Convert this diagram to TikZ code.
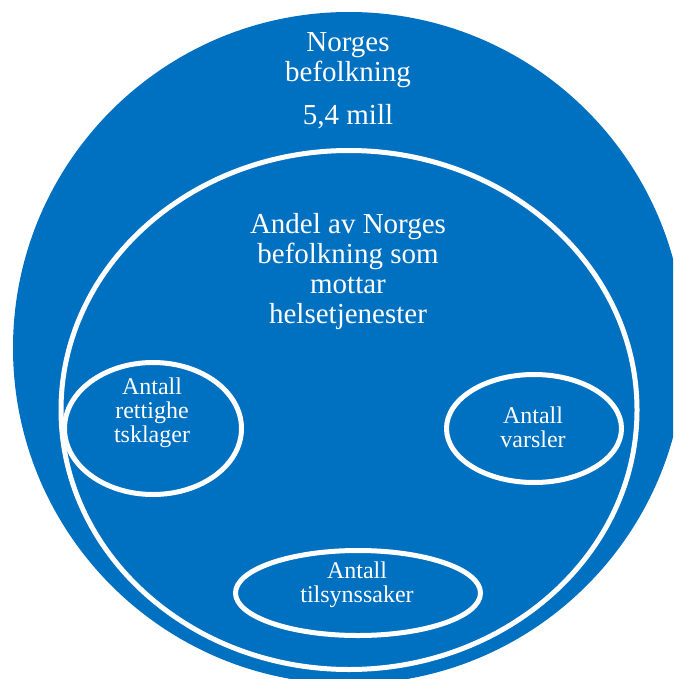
\documentclass[tikz,border=0pt]{standalone}
\usepackage{fontspec}
\setmainfont{Liberation Serif}
\usetikzlibrary{shapes.geometric}
\definecolor{NOBlue}{RGB}{0,112,192}

\begin{document}
\begin{tikzpicture}[x=1pt, y=-1pt,
      popdisc/.style={circle, fill=NOBlue, inner sep=0pt, minimum size=672pt},
      ring/.style={ellipse, draw=white, line width=5pt, inner sep=0pt},
      bigtxt/.style={text=white, align=center, font=\fontsize{29}{30}\selectfont},
      smalltxt/.style={text=white, align=center, font=\fontsize{24}{24}\selectfont}
    ]
    \useasboundingbox (0,0) rectangle (673,679);
    \clip (0,0) rectangle (673,679);

    % Whole population
    \node[popdisc] (pop) at (349,348) {};
    \node[bigtxt] (popTxt) at (348,60) {Norges\\befolkning};
    \node[bigtxt, anchor=base] (popNum) at (348,124.5) {5,4 mill};

    % Share receiving health services
    \node[ring, minimum width=576pt, minimum height=519pt] (health) at (349,410) {};
    \node[bigtxt] (healthTxt) at (348,272)
          {Andel av Norges\\befolkning som\\mottar\\helsetjenester};

    % Cases
    \node[ring, minimum width=177pt, minimum height=132pt] (klager) at (153,428.5) {};
    \node[smalltxt] (klagerTxt) at (152,413) {Antall\\rettighe\\tsklager};

    \node[ring, minimum width=175pt, minimum height=108pt] (varsler) at (534,428.5) {};
    \node[smalltxt] (varslerTxt) at (533,427) {Antall\\varsler};

    \node[ring, minimum width=245pt, minimum height=85pt] (tilsyn) at (358,593) {};
    \node[smalltxt] (tilsynTxt) at (357,585) {Antall\\tilsynssaker};
  \end{tikzpicture}
\end{document}
